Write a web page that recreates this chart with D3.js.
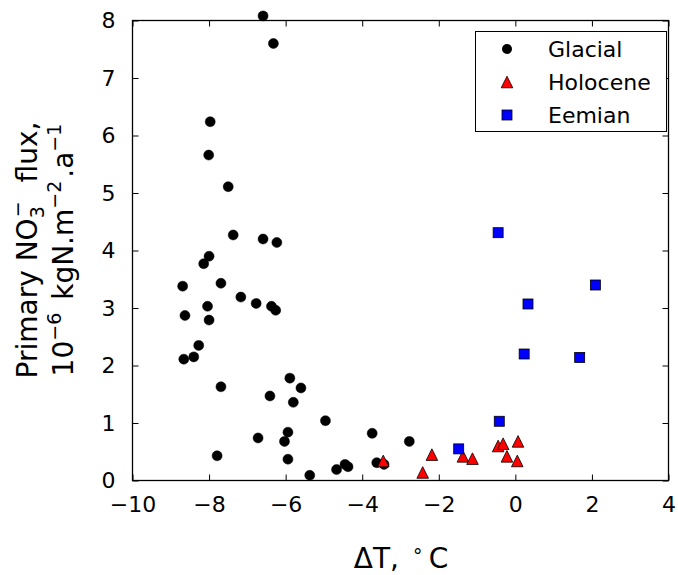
<!DOCTYPE html>
<html>
<head>
<meta charset="utf-8">
<script src="https://cdn.jsdelivr.net/npm/d3@7"></script>
<style>
  html, body { margin: 0; padding: 0; background: #fff; }
  svg { display: block; font-family: "DejaVu Sans", sans-serif; }
</style>
</head>
<body>
<svg id="chart" width="678" height="575"></svg>
<script>
// ---- data (ΔT in °C, primary NO3- flux in 1e-6 kgN m-2 a-1) ----
const glacialX = [-6.59, -6.32, -7.97, -8.01, -7.50, -7.37, -6.59, -6.23, -8.00, -8.14,
                  -7.69, -8.69, -7.17, -6.77, -6.37, -6.26, -8.04, -8.63, -8.00, -8.27,
                  -8.40, -8.66, -5.89, -5.60, -7.69, -6.41, -5.80, -4.96, -3.74, -5.94,
                  -6.72, -6.03, -2.77, -7.79, -5.94, -5.37, -4.67, -4.45, -4.37, -3.62, -3.43];
const glacialY = [8.08, 7.60, 6.24, 5.66, 5.11, 4.27, 4.20, 4.14, 3.90, 3.77,
                  3.43, 3.38, 3.19, 3.08, 3.03, 2.96, 3.03, 2.87, 2.79, 2.35,
                  2.15, 2.11, 1.78, 1.61, 1.63, 1.47, 1.36, 1.04, 0.82, 0.84,
                  0.74, 0.68, 0.68, 0.43, 0.37, 0.09, 0.19, 0.28, 0.24, 0.31, 0.28];
const holoceneX = [-3.45, -2.42, -2.18, -1.37, -1.12, -0.45, -0.32, 0.07, -0.22, 0.05];
const holoceneY = [0.34, 0.14, 0.45, 0.42, 0.38, 0.60, 0.64, 0.68, 0.42, 0.34];
const eemianX = [-0.45, 2.09, 0.33, 0.23, 1.68, -0.42, -1.48];
const eemianY = [4.31, 3.40, 3.07, 2.20, 2.14, 1.03, 0.55];
const xTicks = [-10, -8, -6, -4, -2, 0, 2, 4];
const yTicks = [0, 1, 2, 3, 4, 5, 6, 7, 8];
const seriesNames = ["Glacial", "Holocene", "Eemian"];

// ---- layout ----
const L = 132.5, R = 668.5, T = 20.5, B = 480.5;
const svg = d3.select("#chart");
const x = d3.scaleLinear().domain([-10, 4]).range([L, R]);
const y = d3.scaleLinear().domain([0, 8]).range([B, T]);
const fmt = d => (d < 0 ? "\u2212" + Math.abs(d) : String(d));
const tickLen = 6;

// axes (ticks inward on all sides)
const gB = svg.append("g").attr("transform", `translate(0,${B})`)
  .call(d3.axisBottom(x).tickValues(xTicks).tickSizeInner(-tickLen).tickSizeOuter(0).tickPadding(16).tickFormat(fmt));
const gT = svg.append("g").attr("transform", `translate(0,${T})`)
  .call(d3.axisTop(x).tickValues(xTicks).tickSizeInner(-tickLen).tickSizeOuter(0).tickFormat(""));
const gL = svg.append("g").attr("transform", `translate(${L},0)`)
  .call(d3.axisLeft(y).tickValues(yTicks).tickSizeInner(-tickLen).tickSizeOuter(0).tickPadding(17).tickFormat(fmt));
const gR = svg.append("g").attr("transform", `translate(${R},0)`)
  .call(d3.axisRight(y).tickValues(yTicks).tickSizeInner(-tickLen).tickSizeOuter(0).tickFormat(""));
[gB, gT, gL, gR].forEach(g => {
  g.select(".domain").remove();
  g.selectAll(".tick line").attr("stroke", "#000").attr("stroke-width", 1);
  g.selectAll("text").attr("fill", "#000").style("font-size", "22px").style("font-family", "DejaVu Sans");
});
// frame
svg.append("rect").attr("x", L).attr("y", T).attr("width", R - L).attr("height", B - T)
  .attr("fill", "none").attr("stroke", "#000").attr("stroke-width", 1.3);

// ---- markers ----
const tri = (s) => `M0,${-s}L${-s},${s}L${s},${s}Z`;

svg.append("g").selectAll("circle").data(glacialX.map((d, i) => [d, glacialY[i]]))
  .join("circle").attr("cx", d => x(d[0])).attr("cy", d => y(d[1])).attr("r", 5)
  .attr("fill", "#000").attr("stroke", "#000").attr("stroke-width", 0.5);

svg.append("g").selectAll("path").data(holoceneX.map((d, i) => [d, holoceneY[i]]))
  .join("path").attr("d", tri(5.8))
  .attr("transform", d => `translate(${x(d[0])},${y(d[1])})`)
  .attr("fill", "#ff0000").attr("stroke", "#000").attr("stroke-width", 0.8);

svg.append("g").selectAll("rect").data(eemianX.map((d, i) => [d, eemianY[i]]))
  .join("rect").attr("x", d => x(d[0]) - 5).attr("y", d => y(d[1]) - 5)
  .attr("width", 10).attr("height", 10)
  .attr("fill", "#0000ff").attr("stroke", "#000").attr("stroke-width", 0.8);

// ---- legend ----
const lg = svg.append("g");
lg.append("rect").attr("x", 475.5).attr("y", 31.5).attr("width", 191).attr("height", 100)
  .attr("fill", "#fff").attr("stroke", "#000").attr("stroke-width", 1);
const rowsY = [49, 82, 115];
lg.append("circle").attr("cx", 507).attr("cy", rowsY[0]).attr("r", 5).attr("fill", "#000");
lg.append("path").attr("d", tri(5.8)).attr("transform", `translate(507,${rowsY[1]})`)
  .attr("fill", "#ff0000").attr("stroke", "#000").attr("stroke-width", 0.8);
lg.append("rect").attr("x", 502).attr("y", rowsY[2] - 5).attr("width", 10).attr("height", 10)
  .attr("fill", "#0000ff").attr("stroke", "#000").attr("stroke-width", 0.8);
lg.selectAll("text.lbl").data(seriesNames).join("text").attr("class", "lbl")
  .attr("x", 548).attr("y", (d, i) => rowsY[i] + 8)
  .style("font-size", "22px").attr("fill", "#000").text(d => d);

// ---- axis titles ----
const xt = svg.append("text").attr("x", 401).attr("y", 568).attr("text-anchor", "middle")
  .style("font-size", "28px").attr("fill", "#000");
xt.append("tspan").text("\u0394T, ");
xt.append("tspan").attr("dx", 4).attr("dy", -11).style("font-size", "19px").text("\u2218");
xt.append("tspan").attr("dx", 5).attr("dy", 11).text("C");

const yl = svg.append("g").attr("transform", "translate(0,250) rotate(-90)");
const t1 = yl.append("text").attr("x", 0).attr("y", 37).attr("text-anchor", "middle")
  .style("font-size", "28px").attr("fill", "#000");
t1.append("tspan").text("Primary NO");
t1.append("tspan").attr("dy", 7).style("font-size", "19px").text("3");
t1.append("tspan").attr("dx", -11).attr("dy", -20).style("font-size", "19px").text("\u2212");
t1.append("tspan").attr("dx", 10).attr("dy", 13).text(" flux,");

const t2 = yl.append("text").attr("x", 0).attr("y", 73).attr("text-anchor", "middle")
  .style("font-size", "28px").attr("fill", "#000");
t2.append("tspan").text("10");
t2.append("tspan").attr("dy", -12).style("font-size", "19px").text("\u22126");
t2.append("tspan").attr("dx", 4).attr("dy", 12).text(" kgN.m");
t2.append("tspan").attr("dy", -12).style("font-size", "19px").text("\u22122");
t2.append("tspan").attr("dx", 3).attr("dy", 12).text(".a");
t2.append("tspan").attr("dy", -12).style("font-size", "19px").text("\u22121");
</script>
</body>
</html>
